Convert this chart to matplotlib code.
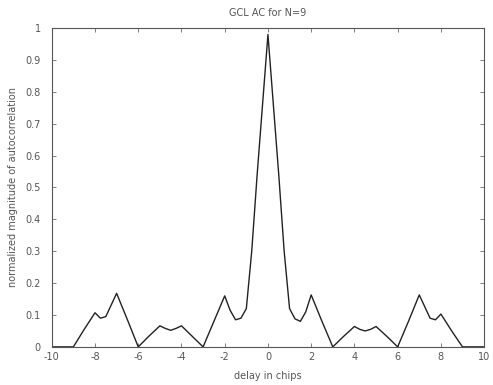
import numpy as np
import matplotlib.pyplot as plt

# autocorrelation magnitude of the GCL sequence, N=9
delay = [-10, -9.5, -9, -8.5, -8, -7.75, -7.5, -7, -6.5, -6, -5.5, -5, -4.75, -4.5, -4.25, -4,
         -3.5, -3, -2.5, -2, -1.75, -1.5, -1.25, -1, -0.75, -0.5, 0,
         0.5, 0.75, 1, 1.25, 1.5, 1.75, 2, 2.5, 3, 3.5, 4, 4.25, 4.5, 4.75, 5,
         5.5, 6, 6.5, 7, 7.5, 7.75, 8, 8.5, 9, 9.5, 10]
mag = [0, 0, 0, 0.055, 0.107, 0.09, 0.095, 0.168, 0.085, 0, 0.034, 0.066, 0.058, 0.052, 0.058, 0.066,
       0.033, 0, 0.08, 0.16, 0.115, 0.085, 0.09, 0.12, 0.3, 0.54, 0.98,
       0.54, 0.3, 0.12, 0.088, 0.08, 0.11, 0.163, 0.08, 0, 0.033, 0.064, 0.055, 0.05, 0.055, 0.064,
       0.033, 0, 0.08, 0.163, 0.09, 0.085, 0.103, 0.05, 0, 0, 0]

xticks = np.arange(-10, 11, 2)
yticks = np.arange(0, 1.01, 0.1)
ytick_labels = ['0', '0.1', '0.2', '0.3', '0.4', '0.5', '0.6', '0.7', '0.8', '0.9', '1']

txt = '#555555'
fig = plt.figure(figsize=(4.93, 3.85), dpi=100)
ax = fig.add_axes([0.105, 0.099, 0.877, 0.828])
ax.plot(delay, mag, color='#222222', linewidth=1.0)

ax.set_xlim(-10, 10)
ax.set_ylim(0, 1)
ax.set_xticks(xticks)
ax.set_xticklabels([str(t) for t in xticks])
ax.set_yticks(yticks)
ax.set_yticklabels(ytick_labels)
ax.tick_params(direction='in', length=3, width=0.6, labelsize=7, colors='#666666',
               labelcolor=txt, top=True, right=True)
ax.tick_params(axis='y', pad=8)
ax.tick_params(axis='x', pad=4)
for s in ax.spines.values():
    s.set_color('#555555')
    s.set_linewidth(0.8)

ax.set_title('GCL AC for N=9', fontsize=7, color=txt, pad=9)
ax.set_xlabel('delay in chips', fontsize=7, color=txt, labelpad=6)
ax.set_ylabel('normalized magnitude of autocorrelation', fontsize=7, color=txt, labelpad=5)

fig.savefig('out.png', dpi=100)
